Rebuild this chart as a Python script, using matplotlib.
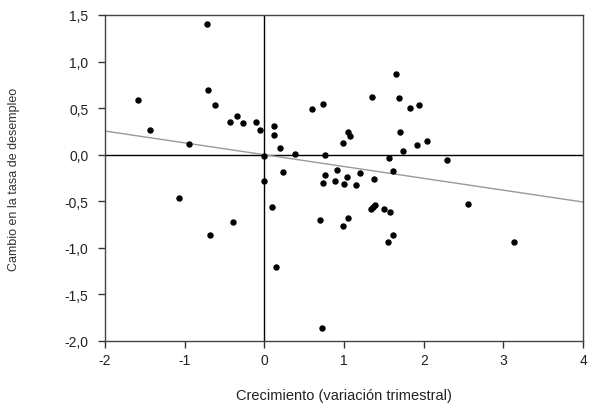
import matplotlib
matplotlib.use("Agg")
import matplotlib.pyplot as plt
from matplotlib.ticker import FuncFormatter

growth = [-0.72, -1.58, -1.44, -0.94, -0.71, -0.62, -0.34, -0.43, -0.27, -0.11, -0.05, 0.0,
          -1.07, -0.68, -0.39, 0.0, 0.09, 0.15, 0.12, 0.12, 0.20, 0.38, 0.60, 0.73, 0.76,
          0.985, 1.05, 1.08, 1.35, 1.65, 1.69, 1.83, 1.94, 1.70, 1.74, 1.92, 2.04, 1.56,
          2.29, 0.235, 0.76, 0.73, 0.91, 0.89, 1.04, 1.00, 1.20, 1.15, 1.37, 1.61,
          0.70, 1.05, 0.99, 1.34, 1.36, 1.39, 1.50, 1.58, 1.62, 1.55, 0.72, 2.56, 3.13]
unemp = [1.40, 0.59, 0.27, 0.11, 0.69, 0.53, 0.42, 0.35, 0.34, 0.35, 0.27, -0.01,
         -0.46, -0.86, -0.72, -0.28, -0.56, -1.21, 0.31, 0.21, 0.07, 0.01, 0.49, 0.54, 0.00,
         0.126, 0.24, 0.20, 0.62, 0.87, 0.61, 0.50, 0.53, 0.24, 0.04, 0.10, 0.15, -0.04,
         -0.06, -0.19, -0.22, -0.30, -0.16, -0.28, -0.24, -0.31, -0.20, -0.32, -0.26, -0.17,
         -0.70, -0.68, -0.77, -0.58, -0.56, -0.54, -0.58, -0.61, -0.86, -0.94, -1.86, -0.53, -0.94]

fit_intercept = 0.0
fit_slope = -0.127

x_ticks = [-2, -1, 0, 1, 2, 3, 4]
y_ticks = [-2.0, -1.5, -1.0, -0.5, 0.0, 0.5, 1.0, 1.5]

plt.rcParams['font.family'] = ['Liberation Sans', 'DejaVu Sans']

fig = plt.figure(figsize=(5.98, 4.10), dpi=100)
ax = fig.add_axes([0.1756, 0.1659, 0.7994, 0.7951])

ax.set_xlim(-2, 4)
ax.set_ylim(-2.0, 1.5)

ax.axhline(0, color='black', lw=1.0, zorder=1)
ax.axvline(0, color='black', lw=1.0, zorder=1)

xl = [-2, 4]
ax.plot(xl, [fit_intercept + fit_slope * v for v in xl], color='#999999', lw=1.0, zorder=2)

ax.plot(growth, unemp, linestyle='none', marker='o', markersize=3.6,
        color='black', zorder=3)

ax.set_xticks(x_ticks)
ax.set_yticks(y_ticks)
ax.xaxis.set_major_formatter(FuncFormatter(lambda v, p: f"{v:.0f}"))
ax.yaxis.set_major_formatter(FuncFormatter(lambda v, p: f"{v:.1f}".replace('.', ',')))
ax.tick_params(direction='out', length=5, width=1, colors='#333333', labelsize=10,
               labelcolor='#222222')
ax.tick_params(axis='y', pad=7)
for s in ax.spines.values():
    s.set_color('#444444')
    s.set_linewidth(1.0)

ax.set_xlabel("Crecimiento (variación trimestral)", fontsize=10.5, color='#222222')
ax.xaxis.set_label_coords(0.5, -0.145)
ax.set_ylabel("Cambio en la tasa de desempleo", fontsize=9, color='#333333')
ax.yaxis.set_label_coords(-0.178, 0.5)

fig.savefig("out.png", dpi=100, facecolor='white')
